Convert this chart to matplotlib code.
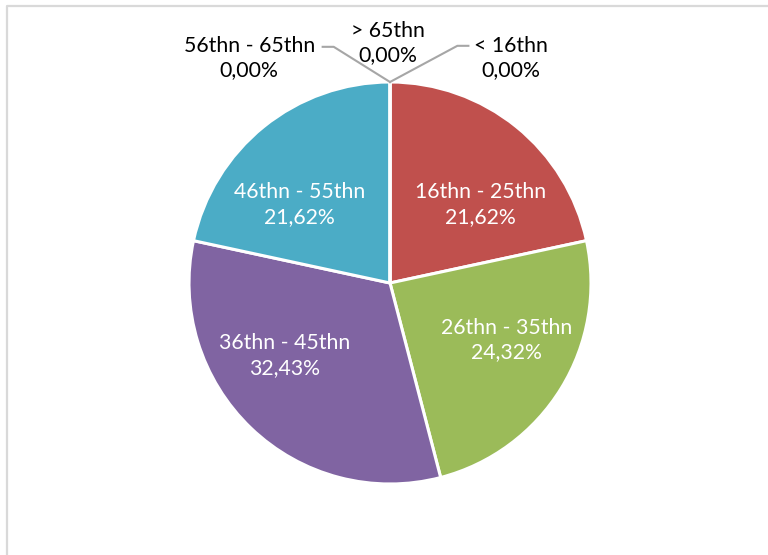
import matplotlib.pyplot as plt
from matplotlib.lines import Line2D

# age groups and their share (percent)
categories = ['< 16thn', '16thn - 25thn', '26thn - 35thn', '36thn - 45thn',
              '46thn - 55thn', '56thn - 65thn', '> 65thn']
shares = [0.00, 21.62, 24.32, 32.43, 21.62, 0.00, 0.00]
colors = ['#4F81BD', '#C0504D', '#9BBB59', '#8064A2', '#4BACC6', '#F79646', '#2C4D75']

plt.rcParams['font.family'] = ['Lato', 'DejaVu Sans']

W, H = 768, 555
fig = plt.figure(figsize=(W / 100, H / 100), dpi=100)

# pie centre (390, 283) px from top-left, radius 201 px
cx, cy, r = 390, 283, 201
ax = fig.add_axes([(cx - r) / W, (H - cy - r) / H, 2 * r / W, 2 * r / H])

wedges, _ = ax.pie(shares, colors=colors, startangle=90, counterclock=False,
                   radius=1, wedgeprops=dict(edgecolor='white', linewidth=2.2))
ax.set_xlim(-1, 1)
ax.set_ylim(-1, 1)
ax.set_aspect('equal')
ax.axis('off')


def pct(v):
    return ('%.2f%%' % v).replace('.', ',')


# label positions in pie units (Excel "best fit" placement)
label_pos = [(0.60, 1.12), (0.45, 0.39), (0.58, -0.285), (-0.525, -0.36),
             (-0.45, 0.39), (-0.70, 1.12), (-0.01, 1.195)]
label_col = ['black', 'white', 'white', 'white', 'white', 'black', 'black']

for name, v, (x, y), c in zip(categories, shares, label_pos, label_col):
    ax.text(x, y, name + '\n' + pct(v), ha='center', va='center', color=c,
            fontsize=15.3, linespacing=1.28, clip_on=False)

# leader lines for the zero slices
lc = '#A6A6A6'
ax.plot([0, 0.335, 0.39], [1.0, 1.18, 1.18], color=lc, lw=1.5, clip_on=False)
ax.plot([0, -0.28, -0.335], [1.0, 1.175, 1.175], color=lc, lw=1.5, clip_on=False)

# chart area border (only top and left edges visible)
fig.add_artist(Line2D([6.5 / W, 6.5 / W, 1.0], [0.0, 1 - 5.5 / H, 1 - 5.5 / H],
                      color='#D9D9D9', lw=1.6, transform=fig.transFigure))

fig.savefig('out.png', dpi=100, facecolor='white')
